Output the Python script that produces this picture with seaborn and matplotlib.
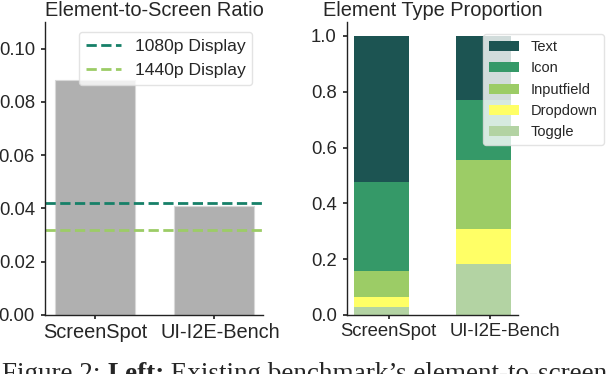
import matplotlib
matplotlib.use('Agg')
import matplotlib.pyplot as plt
import matplotlib.transforms as mtransforms
import seaborn as sns
import pandas as pd
import numpy as np

# ---- data ----
datasets = ['ScreenSpot', 'UI-I2E-Bench']
ratio = [0.0883, 0.0409]
display_labels = ['1080p Display', '1440p Display']
display_ratio = [0.0421, 0.0320]
display_colors = ['#168068', '#9ccc66']

types = ['Text', 'Icon', 'Inputfield', 'Dropdown', 'Toggle']
screenspot_prop = [0.522, 0.322, 0.090, 0.036, 0.030]
ui_i2e_prop = [0.231, 0.215, 0.247, 0.126, 0.181]
type_colors = ['#1c5452', '#359968', '#9ccc66', '#ffff66', '#b3d3a3']

# ---- style ----
sns.set_theme(style='ticks')
plt.rcParams['font.family'] = ['Liberation Sans', 'DejaVu Sans']
plt.rcParams['axes.edgecolor'] = '#222222'
plt.rcParams['axes.linewidth'] = 1.0
plt.rcParams['xtick.major.size'] = 3
plt.rcParams['ytick.major.size'] = 3
plt.rcParams['xtick.major.pad'] = 3
plt.rcParams['ytick.major.pad'] = 4.3

fig = plt.figure(figsize=(6.06, 3.74), dpi=100)
ax1 = fig.add_axes([0.0743, 0.1578, 0.3597, 0.7834])
ax2 = fig.add_axes([0.5726, 0.1578, 0.2822, 0.7834])

FS = 14.4
TS = 13.3


def shift_label(label, dx_px):
    label.set_transform(label.get_transform() +
                        mtransforms.ScaledTranslation(dx_px / 100, 0, fig.dpi_scale_trans))


# ---- left: element-to-screen ratio ----
df1 = pd.DataFrame({'dataset': datasets, 'ratio': ratio})
sns.barplot(data=df1, x='dataset', y='ratio', color='#b0b0b0', saturation=1,
            width=0.67, edgecolor='#d8d8d8', linewidth=0.8, ax=ax1)
for lab, val, col in zip(display_labels, display_ratio, display_colors):
    ax1.axhline(val, color=col, linestyle='--', linewidth=2.0, label=lab)
ax1.set_xlim(-0.42, 1.412)
ax1.set_ylim(0, 0.11)
ax1.set_yticks([0.0, 0.02, 0.04, 0.06, 0.08, 0.10])
ax1.set_yticklabels(['0.00', '0.02', '0.04', '0.06', '0.08', '0.10'])
ax1.set_xlabel('')
ax1.set_ylabel('')
ax1.set_title('Element-to-Screen Ratio', fontsize=FS, pad=4)
ax1.tick_params(axis='x', labelsize=FS)
ax1.tick_params(axis='y', labelsize=TS)
ax1.legend(loc='upper right', fontsize=12.6, bbox_to_anchor=(0.951, 0.966),
           borderaxespad=0, handlelength=2.0, labelspacing=0.5,
           edgecolor='#dddddd', framealpha=0.8)

# ---- right: element type proportion (stacked) ----
props = np.array([screenspot_prop, ui_i2e_prop])  # rows = datasets
# stacked tops: top of each type = sum of it and all types below it
tops = np.cumsum(props[:, ::-1], axis=1)[:, ::-1]
handles = []
for i, (t, c) in enumerate(zip(types, type_colors)):
    dfi = pd.DataFrame({'dataset': datasets, 'top': tops[:, i]})
    sns.barplot(data=dfi, x='dataset', y='top', color=c, saturation=1,
                width=0.54, linewidth=0, ax=ax2)
    handles.append(plt.Rectangle((0, 0), 1, 1, facecolor=c, edgecolor='none', label=t))
ax2.set_xlim(-0.339, 1.341)
ax2.set_ylim(0, 1.05)
ax2.set_yticks([0.0, 0.2, 0.4, 0.6, 0.8, 1.0])
ax2.set_xticks([0.07, 1.07])
ax2.set_xticklabels(datasets)
ax2.set_xlabel('')
ax2.set_ylabel('')
ax2.set_title('Element Type Proportion', fontsize=FS, pad=4)
ax2.tick_params(labelsize=TS)
ax2.legend(handles=handles, loc='upper left', bbox_to_anchor=(0.795, 0.958),
           borderaxespad=0, fontsize=10.5, handlelength=2.1, labelspacing=0.5,
           edgecolor='#dddddd', framealpha=0.8)

sns.despine(ax=ax1)
sns.despine(ax=ax2)

# the second category label sits a little right of its tick in the source
shift_label(ax1.get_xticklabels()[1], 6)
shift_label(ax2.get_xticklabels()[1], 15)

# ---- caption (cut off at bottom, as in the source) ----
cap_fs = 19.5
y0 = -7.2 / 374
t1 = fig.text(0.003, y0, 'Figure 2: ', fontsize=cap_fs, family='Liberation Serif',
              va='baseline', ha='left')
t2 = fig.text(0, 0, 'Left:', fontsize=cap_fs, family='Liberation Serif',
              fontweight='bold', va='baseline', ha='left')
t3 = fig.text(0, 0, ' Existing benchmark\u2019s element-to-screen', fontsize=cap_fs,
              family='Liberation Serif', va='baseline', ha='left')
fig.canvas.draw()
r = fig.canvas.get_renderer()
bb1 = t1.get_window_extent(r)
t2.set_position(((bb1.x1) / fig.bbox.width, y0))
fig.canvas.draw()
bb2 = t2.get_window_extent(r)
t3.set_position(((bb2.x1) / fig.bbox.width, y0))

fig.savefig('out.png', dpi=100)
